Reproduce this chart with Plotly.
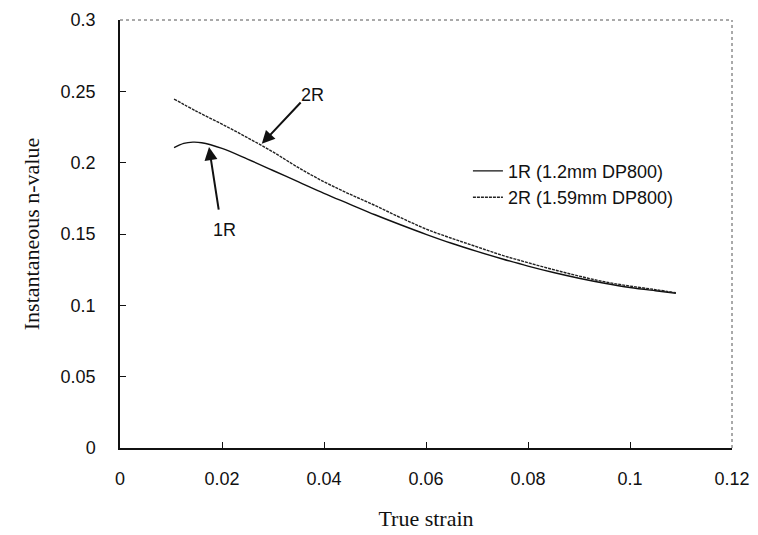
import plotly.graph_objects as go

# Data
strain_1r = [0.0106, 0.0125, 0.0143, 0.016, 0.02, 0.025, 0.03, 0.035, 0.04, 0.045, 0.05,
             0.055, 0.06, 0.065, 0.07, 0.075, 0.08, 0.085, 0.09, 0.095, 0.1, 0.105, 0.109]
n_1r = [0.2105, 0.2135, 0.2144, 0.2140, 0.2100, 0.2025, 0.1945, 0.1865, 0.1785, 0.171, 0.1635,
        0.1565, 0.1498, 0.1435, 0.1378, 0.1325, 0.1275, 0.123, 0.119, 0.1155, 0.1125, 0.1102, 0.1085]

strain_2r = [0.0106, 0.015, 0.02, 0.025, 0.03, 0.035, 0.04, 0.045, 0.05, 0.055, 0.06,
             0.065, 0.07, 0.075, 0.08, 0.085, 0.09, 0.095, 0.1, 0.105, 0.109]
n_2r = [0.2446, 0.236, 0.227, 0.2175, 0.2075, 0.1965, 0.1866, 0.178, 0.170, 0.1615, 0.1535,
        0.147, 0.141, 0.135, 0.1299, 0.125, 0.1205, 0.1165, 0.1135, 0.111, 0.1088]

x_ticks = [0, 0.02, 0.04, 0.06, 0.08, 0.1, 0.12]
x_tick_labels = ["0", "0.02", "0.04", "0.06", "0.08", "0.1", "0.12"]
y_ticks = [0, 0.05, 0.1, 0.15, 0.2, 0.25, 0.3]
y_tick_labels = ["0", "0.05", "0.1", "0.15", "0.2", "0.25", "0.3"]

series_names = ["1R (1.2mm DP800)", "2R (1.59mm DP800)"]

# annotation anchors (label, tip, tail)
label_2r = dict(text="2R", x=0.0378, y=0.2474, tip=(0.0278, 0.2132), tail=(0.0357, 0.2432))
label_1r = dict(text="1R", x=0.0204, y=0.1528, tip=(0.01745, 0.2109), tail=(0.0194, 0.1661))

sans = "Liberation Sans, Arial, sans-serif"
serif = "Liberation Serif, Times New Roman, serif"

fig = go.Figure()
fig.add_trace(go.Scatter(x=strain_1r, y=n_1r, mode="lines", name=series_names[0],
                         line=dict(color="#111111", width=1.4, shape="spline")))
fig.add_trace(go.Scatter(x=strain_2r, y=n_2r, mode="lines", name=series_names[1],
                         line=dict(color="#222222", width=1.4, dash="3px,1px", shape="spline")))

for lab in (label_2r, label_1r):
    fig.add_annotation(x=lab["tip"][0], y=lab["tip"][1], ax=lab["tail"][0], ay=lab["tail"][1],
                       xref="x", yref="y", axref="x", ayref="y", text="", showarrow=True,
                       arrowhead=2, arrowsize=1.3, arrowwidth=2, arrowcolor="#111111")
    fig.add_annotation(x=lab["x"], y=lab["y"], xref="x", yref="y", text=lab["text"],
                       showarrow=False, font=dict(family=sans, size=18, color="#111111"))

# dotted top and right frame
fig.add_shape(type="line", xref="paper", yref="paper", x0=0, y0=1, x1=1, y1=1,
              line=dict(color="#555555", width=1, dash="dot"))
fig.add_shape(type="line", xref="paper", yref="paper", x0=1, y0=0, x1=1, y1=1,
              line=dict(color="#555555", width=1, dash="dot"))

fig.update_layout(
    width=758, height=535,
    margin=dict(l=120, r=26, t=20, b=87),
    paper_bgcolor="white", plot_bgcolor="white",
    font=dict(family=sans, size=18, color="#111111"),
    showlegend=True,
    legend=dict(x=0.5685, y=0.69, xanchor="left", yanchor="top",
                bgcolor="rgba(0,0,0,0)", font=dict(family=sans, size=18, color="#111111"),
                itemwidth=30, tracegroupgap=0),
    xaxis=dict(range=[0, 0.12], tickvals=x_ticks, ticktext=x_tick_labels, automargin=False,
               showgrid=False, zeroline=False, showline=True, linecolor="#111111", linewidth=1.5,
               ticks="inside", ticklen=6, tickcolor="#111111", tickwidth=1,
               ticklabelstandoff=14, tickfont=dict(family=sans, size=18),
               title=dict(text="True strain", font=dict(family=serif, size=22, color="#111111"),
                          standoff=22)),
    yaxis=dict(range=[0, 0.3], tickvals=y_ticks, ticktext=y_tick_labels, automargin=False,
               showgrid=False, zeroline=False, showline=True, linecolor="#111111", linewidth=1.5,
               ticks="inside", ticklen=6, tickcolor="#111111", tickwidth=1,
               ticklabelstandoff=19, tickfont=dict(family=sans, size=18),
               title=dict(text="Instantaneous n-value", font=dict(family=serif, size=22, color="#111111"),
                          standoff=15)),
)

fig.write_html("out.html")
